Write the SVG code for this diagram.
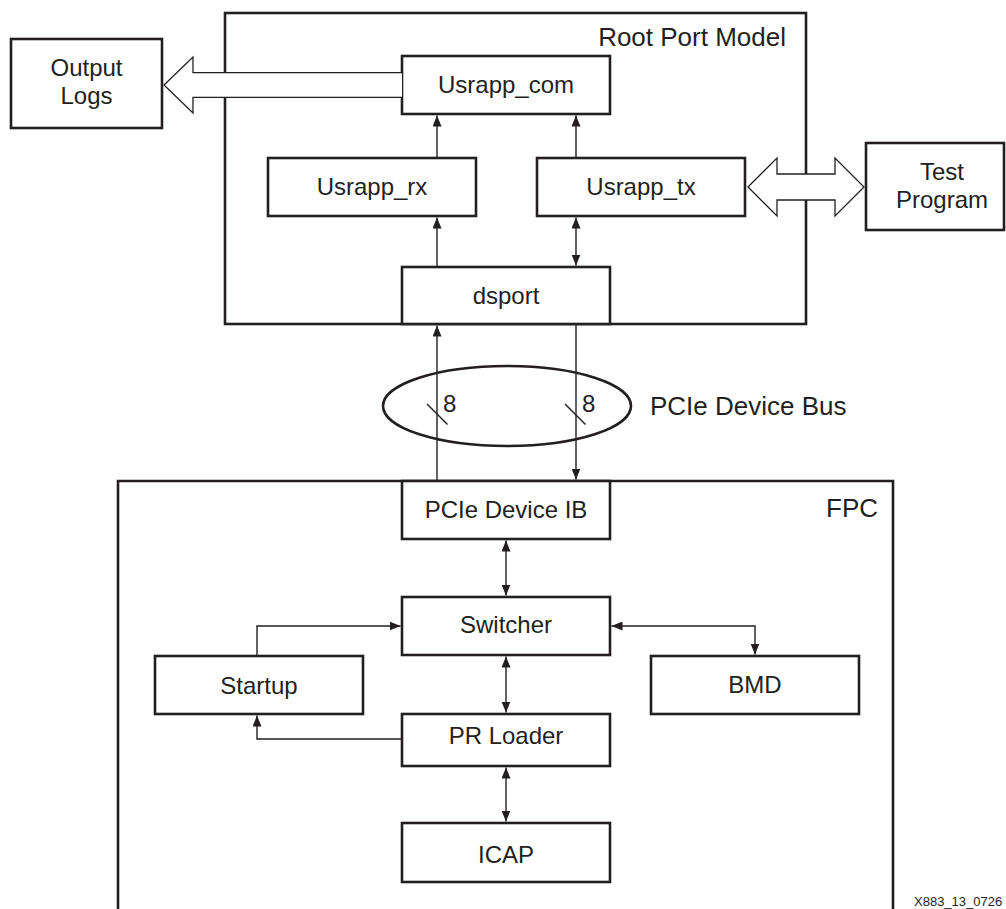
<svg xmlns="http://www.w3.org/2000/svg" width="1006" height="909" viewBox="0 0 1006 909">
<defs>
<marker id="ah" markerUnits="userSpaceOnUse" markerWidth="12" markerHeight="9" refX="11" refY="4.5" orient="auto-start-reverse">
<path d="M0,0 L11,4.5 L0,9 z" fill="#231f20"/>
</marker>
<style>
.box{fill:#fff;stroke:#231f20;stroke-width:2.6}
.frame{fill:none;stroke:#231f20;stroke-width:2.6}
.t{font-family:"Liberation Sans",Arial,Helvetica,sans-serif;font-size:24px;fill:#231f20;text-anchor:middle}
.title{font-family:"Liberation Sans",Arial,Helvetica,sans-serif;font-size:26px;fill:#231f20;text-anchor:end}
.c{fill:none;stroke:#231f20;stroke-width:1.4}
.ca{fill:none;stroke:#231f20;stroke-width:1.4;marker-end:url(#ah)}
.cb{fill:none;stroke:#231f20;stroke-width:1.4;marker-start:url(#ah);marker-end:url(#ah)}
.big{fill:#fff;stroke:#231f20;stroke-width:1.3;stroke-linejoin:miter}
</style>
</defs>
<rect width="1006" height="909" fill="#fff"/>

<g id="root-port-model">
<rect class="frame" x="225" y="13" width="581" height="311"/>
<text class="title" x="786" y="46">Root Port Model</text>
</g>

<g id="fpc">
<path class="frame" d="M118,909 V481 H893 V909"/>
<text class="title" x="878" y="517">FPC</text>
</g>

<g id="output-logs">
<rect class="box" x="11" y="39" width="151" height="89"/>
<text class="t" x="86.5" y="76">Output</text>
<text class="t" x="86.5" y="104">Logs</text>
</g>

<g id="test-program">
<rect class="box" x="866" y="143" width="138" height="87"/>
<text class="t" x="942" y="180">Test</text>
<text class="t" x="942" y="208">Program</text>
</g>

<g id="usrapp-com">
<rect class="box" x="402" y="56" width="208" height="58"/>
<text class="t" x="506" y="93">Usrapp_com</text>
</g>

<g id="usrapp-rx">
<rect class="box" x="268" y="158" width="208" height="58"/>
<text class="t" x="372" y="195">Usrapp_rx</text>
</g>

<g id="usrapp-tx">
<rect class="box" x="537" y="158" width="208" height="58"/>
<text class="t" x="641" y="195">Usrapp_tx</text>
</g>

<g id="dsport">
<rect class="box" x="402" y="267" width="208" height="57"/>
<text class="t" x="506" y="304">dsport</text>
</g>

<g id="pcie-device-ib">
<rect class="box" x="402" y="481" width="208" height="58"/>
<text class="t" x="506" y="518">PCIe Device IB</text>
</g>

<g id="switcher">
<rect class="box" x="402" y="597" width="208" height="58"/>
<text class="t" x="506" y="633">Switcher</text>
</g>

<g id="startup">
<rect class="box" x="155" y="656" width="208" height="58"/>
<text class="t" x="259" y="694">Startup</text>
</g>

<g id="bmd">
<rect class="box" x="651" y="656" width="208" height="58"/>
<text class="t" x="755" y="693">BMD</text>
</g>

<g id="pr-loader">
<rect class="box" x="402" y="714" width="208" height="52"/>
<text class="t" x="506" y="744">PR Loader</text>
</g>

<g id="icap">
<rect class="box" x="402" y="823" width="208" height="59"/>
<text class="t" x="506" y="863">ICAP</text>
</g>

<g id="pcie-device-bus">
<ellipse cx="507" cy="406" rx="124" ry="40" fill="none" stroke="#231f20" stroke-width="2.6"/>
<text x="650" y="415" font-family="'Liberation Sans',Arial,Helvetica,sans-serif" font-size="26" fill="#231f20">PCIe Device Bus</text>
</g>

<g id="connectors">
<path class="big" d="M402,72.7 H193 V57 L164,85 L193,113 V97.3 H402"/>
<path class="big" d="M748,187 L777,158 V174 H835 V158 L864,187 L835,216 V200 H777 V216 Z"/>
<line class="ca" x1="437" y1="158" x2="437" y2="115.5"/>
<line class="ca" x1="576" y1="158" x2="576" y2="115.5"/>
<line class="ca" x1="437" y1="267" x2="437" y2="217.5"/>
<line class="cb" x1="576" y1="217.5" x2="576" y2="265.5"/>
<line class="ca" x1="437" y1="481" x2="437" y2="325.5"/>
<line class="ca" x1="576" y1="324" x2="576" y2="479.5"/>
<line class="c" x1="427" y1="404" x2="447.5" y2="424.5"/>
<line class="c" x1="565" y1="404" x2="585.5" y2="424.5"/>
<text x="443" y="412" font-family="'Liberation Sans',Arial,Helvetica,sans-serif" font-size="24" fill="#231f20">8</text>
<text x="582" y="412" font-family="'Liberation Sans',Arial,Helvetica,sans-serif" font-size="24" fill="#231f20">8</text>
<line class="cb" x1="506" y1="540.5" x2="506" y2="595.5"/>
<line class="cb" x1="506" y1="656.5" x2="506" y2="712.5"/>
<line class="cb" x1="506" y1="767.5" x2="506" y2="821.5"/>
<polyline class="ca" points="257,656 257,626 400.5,626"/>
<polyline class="ca" points="402,739 257,739 257,715.5"/>
<polyline class="cb" points="611.5,626 755,626 755,654.5"/>
</g>

<text x="914" y="906" font-family="'Liberation Sans',Arial,Helvetica,sans-serif" font-size="13" fill="#231f20">X883_13_0726</text>
</svg>
